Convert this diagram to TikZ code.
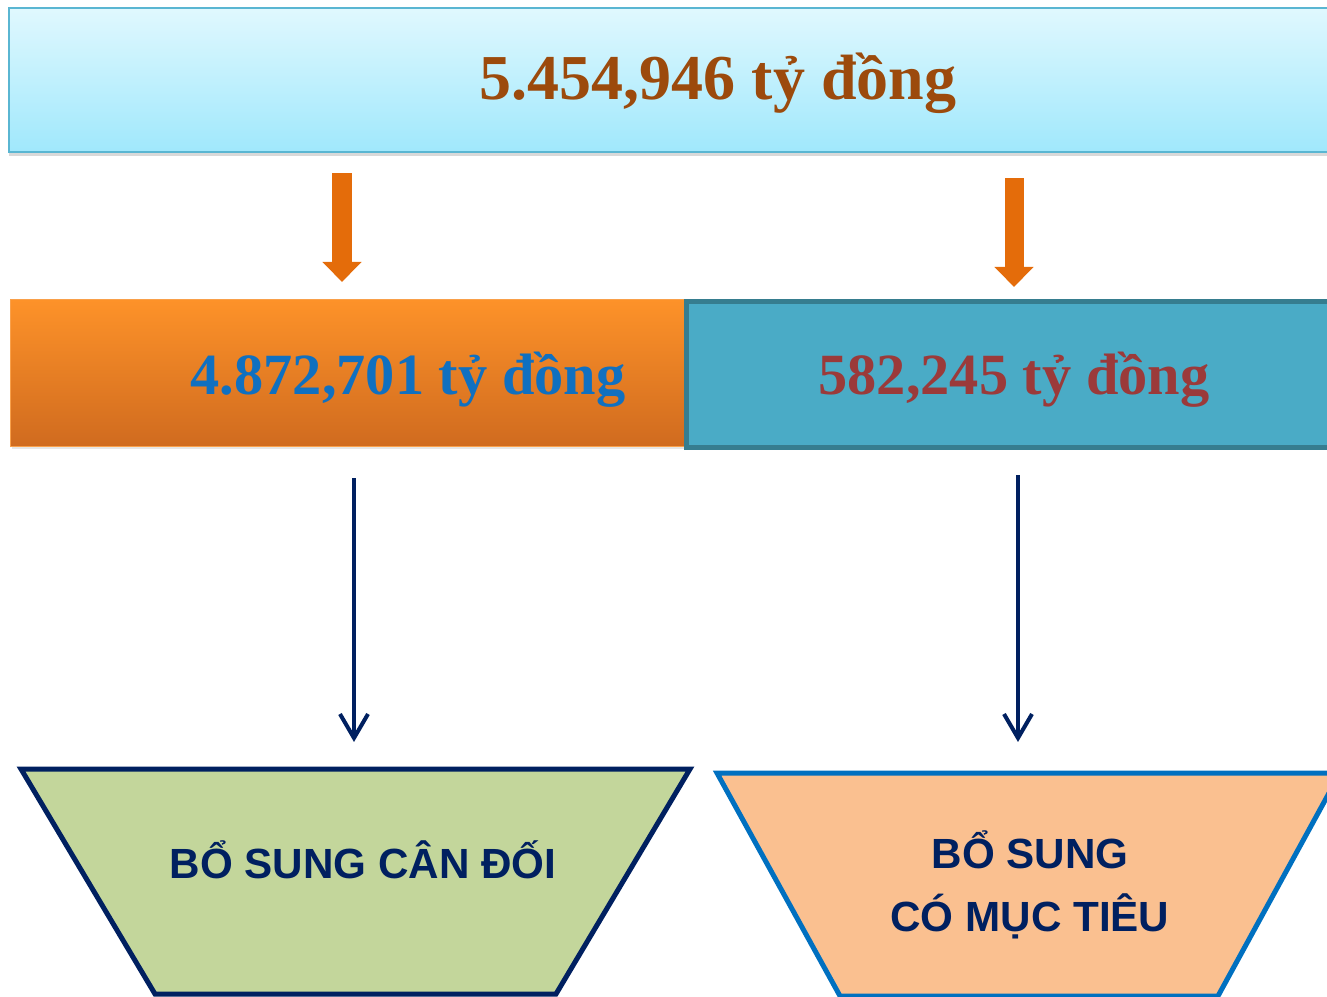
\documentclass[tikz,border=0pt]{standalone}
\usepackage{fontspec}
\setmainfont{Liberation Serif}
\setsansfont{Liberation Sans}
\usetikzlibrary{arrows.meta,shadows}
\definecolor{tongvien}{HTML}{5AB6D2}
\definecolor{tongtren}{HTML}{E0F8FE}
\definecolor{tongduoi}{HTML}{A0E8FC}
\definecolor{nau}{HTML}{9C4A0C}
\definecolor{camtren}{HTML}{FD9229}
\definecolor{camduoi}{HTML}{D06B1F}
\definecolor{camvien}{HTML}{F9A04A}
\definecolor{xanhchu}{HTML}{1070C0}
\definecolor{xanhlam}{HTML}{4AABC6}
\definecolor{vienlam}{HTML}{367D8F}
\definecolor{dochu}{HTML}{9B3A3A}
\definecolor{camdam}{HTML}{E46C0A}
\definecolor{xanhdam}{HTML}{002060}
\definecolor{xanhla}{HTML}{C3D69B}
\definecolor{dao}{HTML}{FAC090}
\definecolor{vienxanh}{HTML}{0070C0}

\begin{document}
\begin{tikzpicture}[x=0.01cm,y=-0.01cm,
    hop/.style={inner sep=0pt,outer sep=0pt},
    sotien/.style={anchor=base,font=\bfseries\fontsize{16.6}{20}\selectfont},
    muiten/.style={camdam,line width=0.19cm,-{Triangle[width=0.38cm,length=0.2cm]}},
    muitennho/.style={xanhdam,line width=0.04cm,line join=miter,-{Straight Barb[length=0.24cm,width=0.28cm]}},
    hinhthang/.style={line width=0.05cm,line join=miter},
    chu/.style={font=\sffamily\bfseries\fontsize{12}{18}\selectfont,text=xanhdam,align=center}]
          \useasboundingbox (0,0) rectangle (1327,997);
          \clip (0,0) rectangle (1327,997);
          %\draw[very thin,lightgray,step=100] (0,0) grid (1327,997);
          \node[hop,draw=tongvien,line width=0.02cm,top color=tongtren,bottom color=tongduoi,
            minimum width=14.18cm,minimum height=1.44cm,
            drop shadow={shadow xshift=0cm,shadow yshift=-0.04cm,opacity=0.3}] (tong) at (718,80) {};
          \node[sotien,text=nau,font=\bfseries\fontsize{18.2}{22}\selectfont] (tongso) at (718,100) {5.454,946 tỷ đồng};
          % hai khoan
          \node[hop,draw=camvien,line width=0.01cm,top color=camtren,bottom color=camduoi,
            minimum width=6.76cm,minimum height=1.46cm,
            drop shadow={shadow xshift=0.01cm,shadow yshift=-0.03cm,opacity=0.2}] (cando) at (349,373) {};
          \node[hop,draw=vienlam,line width=0.05cm,fill=xanhlam,
            minimum width=6.54cm,minimum height=1.45cm] (muctieu) at (1014,374.5) {};
          \node[sotien,text=xanhchu] (candoso) at (408,394) {4.872,701 tỷ đồng};
          \node[sotien,text=dochu] (muctieuso) at (1014,394) {582,245 tỷ đồng};
          \draw[muiten,shorten <=0.21cm,shorten >=0.18cm] ([xshift=-0.07cm]cando.north |- tong.south) -- ([xshift=-0.07cm]cando.north);
          \draw[muiten,shorten <=0.26cm,shorten >=0.15cm] (muctieu.north |- tong.south) -- (muctieu.north);
          % hinh thang
          \draw[hinhthang,draw=xanhdam,fill=xanhla] (21,769)--(690,769)--(556,994)--(155,994)--cycle;
          \draw[hinhthang,draw=vienxanh,fill=dao] (717,773)--(1340,773)--(1218,996)--(840,996)--cycle;
          \coordinate (cdtop) at (354,769);
          \coordinate (mttop) at (1018,773);
          \node[chu] (cdchu) at (363,860) {BỔ SUNG CÂN ĐỐI};
          \node[chu] (mtchu) at (1030,885) {BỔ SUNG\\CÓ MỤC TIÊU};
          \draw[muitennho,shorten <=0.32cm,shorten >=0.27cm] (cdtop |- cando.south) -- (cdtop);
          \draw[muitennho,shorten <=0.28cm,shorten >=0.31cm] (mttop |- muctieu.south) -- (mttop);
        \end{tikzpicture}
\end{document}
